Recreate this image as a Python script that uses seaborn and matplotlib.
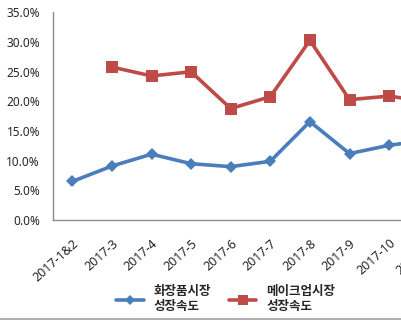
import matplotlib
matplotlib.use("Agg")
import matplotlib.pyplot as plt
from matplotlib.lines import Line2D
import numpy as np
import pandas as pd
import seaborn as sns

# Monthly growth rates, 2017 (%)
months = ["2017-1&2", "2017-3", "2017-4", "2017-5", "2017-6", "2017-7",
          "2017-8", "2017-9", "2017-10", "2017-11"]
cosmetics_growth = [6.5, 9.1, 11.1, 9.5, 9.0, 9.9, 16.6, 11.2, 12.6, 13.5]
makeup_growth = [np.nan, 25.8, 24.3, 25.0, 18.8, 20.8, 30.3, 20.3, 20.9, 19.9]
series_names = ["화장품시장\n성장속도", "메이크업시장\n성장속도"]

sns.set_theme(style="white")
plt.rcParams["font.family"] = ["Noto Sans", "Noto Sans CJK KR", "DejaVu Sans"]

BLUE = "#4A7EBB"
RED = "#BE4B48"
AXIS_GREY = "#8C8C8C"

fig = plt.figure(figsize=(4.02, 3.27), dpi=100)
# plot area runs past the right edge of the figure
ax = fig.add_axes([0.1306, 0.3272, 1.0836, 0.6346])

df = pd.DataFrame({"month": months,
                   "cosmetics": cosmetics_growth,
                   "makeup": makeup_growth})

sns.lineplot(data=df, x="month", y="cosmetics", ax=ax, color=BLUE,
             linewidth=2.6, marker="D", markersize=6.5, markeredgewidth=0,
             sort=False)
sns.lineplot(data=df.dropna(), x="month", y="makeup", ax=ax, color=RED,
             linewidth=2.6, marker="s", markersize=8, markeredgewidth=0,
             sort=False)

ax.set_xlim(-0.5, len(months) + 0.5)
ax.set_ylim(0, 35)
ax.set_yticks(np.arange(0, 36, 5))
ax.set_yticklabels([f"{v:.1f}%" for v in np.arange(0, 36, 5)],
                   fontsize=8.5, color="#262626")
ax.set_xticks(range(len(months)))
ax.set_xticklabels(months, rotation=42, ha="right", rotation_mode="anchor",
                   fontsize=9, color="#262626")
ax.tick_params(axis="both", length=0)
ax.tick_params(axis="y", pad=9)
ax.tick_params(axis="x", pad=12)
ax.set_xlabel("")
ax.set_ylabel("")

for side in ("top", "right"):
    ax.spines[side].set_visible(False)
for side in ("left", "bottom"):
    ax.spines[side].set_color(AXIS_GREY)
    ax.spines[side].set_linewidth(1.0)

handles = [
    Line2D([], [], color=BLUE, linewidth=2.6, marker="D", markersize=5,
           markeredgewidth=0),
    Line2D([], [], color=RED, linewidth=2.6, marker="s", markersize=6.5,
           markeredgewidth=0),
]
fig.legend(handles, series_names, loc="center", ncol=2,
           bbox_to_anchor=(0.562, 0.085), frameon=False, handlelength=2.2,
           columnspacing=1.4, handletextpad=0.8,
           prop={"family": ["Noto Sans CJK KR", "DejaVu Sans"],
                 "weight": "bold", "size": 9})

# chart area border along the bottom
fig.add_artist(Line2D([0, 1], [8.5 / 327, 8.5 / 327], color="#A0A0A0",
                      linewidth=1.2, transform=fig.transFigure))

fig.savefig("out.png", dpi=100)
